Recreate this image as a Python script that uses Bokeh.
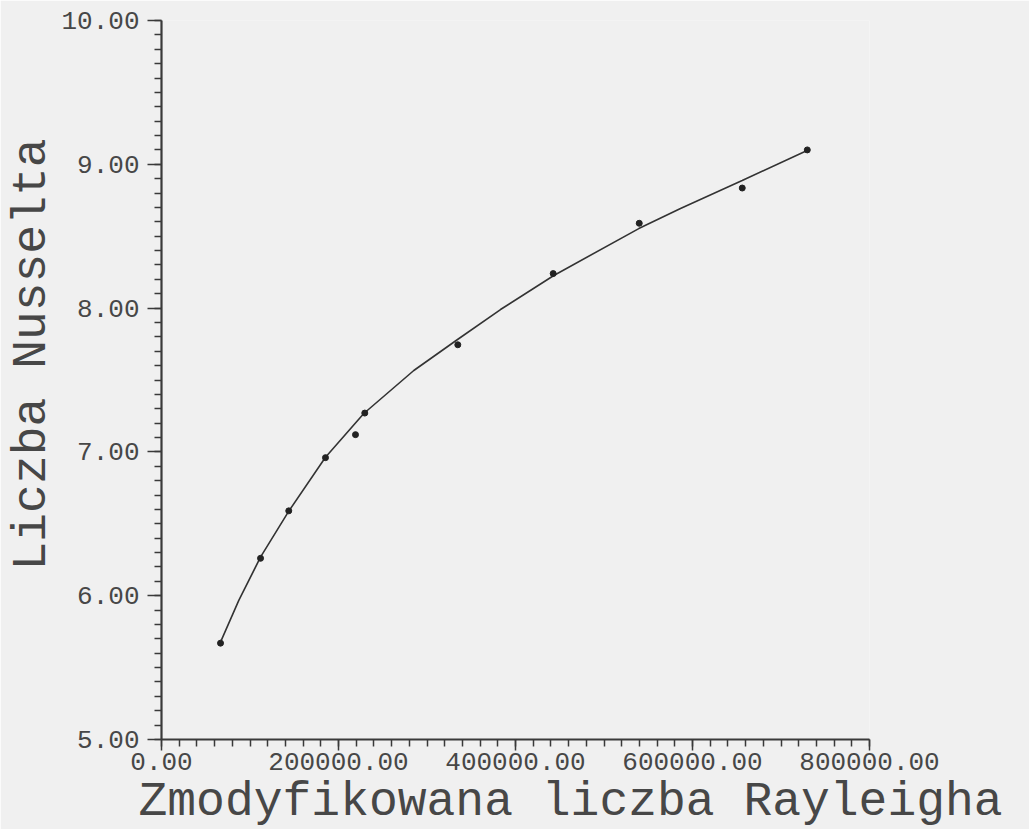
from bokeh.plotting import figure
from bokeh.models import Range1d, SingleIntervalTicker, Title
from bokeh.embed import file_html
from bokeh.resources import INLINE

# measured data points (modified Rayleigh number, Nusselt number)
ra_points = [66700, 111900, 143800, 185300, 219200, 229700, 334800, 442600, 539800, 656200, 729700]
nu_points = [5.67, 6.26, 6.59, 6.96, 7.12, 7.27, 7.745, 8.24, 8.59, 8.835, 9.10]

# fitted curve
ra_curve = [66670, 87340, 111860, 143840, 185300, 228580, 285080, 334120, 383050,
            443300, 539300, 586440, 656140, 727700]
nu_curve = [5.677, 5.967, 6.268, 6.588, 6.963, 7.267, 7.566, 7.78, 7.99,
            8.227, 8.553, 8.693, 8.887, 9.091]

x_ticks = [0, 200000, 400000, 600000, 800000]
x_tick_labels = ["0.00", "200000.00", "400000.00", "600000.00", "800000.00"]
y_ticks = [5, 6, 7, 8, 9, 10]
y_tick_labels = ["5.00", "6.00", "7.00", "8.00", "9.00", "10.00"]

x_title = "Zmodyfikowana liczba Rayleigha"
y_title = "Liczba Nusselta"

BG = "#f0f0f0"
INK = "#3a3a3a"
TXT = "#474747"
FONT = "Liberation Mono"

p = figure(width=1029, height=829, x_range=Range1d(0, 800000), y_range=Range1d(5, 10),
           output_backend="svg", toolbar_location=None,
           min_border_left=161, min_border_right=160, min_border_top=20, min_border_bottom=90)
p.background_fill_color = BG
p.border_fill_color = BG
p.outline_line_color = None
p.grid.visible = False

p.xaxis.ticker = SingleIntervalTicker(interval=200000, num_minor_ticks=10)
p.yaxis.ticker = SingleIntervalTicker(interval=1, num_minor_ticks=10)
p.xaxis.major_label_overrides = {t: l for t, l in zip(x_ticks, x_tick_labels)}
p.yaxis.major_label_overrides = {t: l for t, l in zip(y_ticks, y_tick_labels)}

for ax in (p.xaxis, p.yaxis):
    ax.axis_line_color = INK
    ax.major_tick_line_color = INK
    ax.minor_tick_line_color = INK
    ax.major_tick_in = 0
    ax.minor_tick_in = 0
    ax.major_label_text_font = FONT
    ax.major_label_text_font_size = "26px"
    ax.major_label_text_color = TXT
    ax.major_tick_line_width = 1.5
    ax.minor_tick_line_width = 1.5

p.yaxis.axis_line_width = 2.2
p.xaxis.axis_line_width = 1.8
p.yaxis.major_tick_out = 14
p.yaxis.minor_tick_out = 7
p.yaxis.major_label_standoff = 8
p.xaxis.major_tick_out = 11
p.xaxis.minor_tick_out = 7
p.xaxis.major_label_standoff = 2

# axis titles as side-panel titles, shifted like in the original
p.add_layout(Title(text=x_title, align="left", offset=-23, standoff=0,
                   vertical_align="bottom", text_font=FONT, text_font_size="48px",
                   text_font_style="normal", text_color=TXT), "below")
p.add_layout(Title(text=y_title, align="left", offset=169, standoff=0,
                   vertical_align="bottom", text_font=FONT, text_font_size="48px",
                   text_font_style="normal", text_color=TXT), "left")

p.line(ra_curve, nu_curve, line_color="#333333", line_width=1.6)
p.scatter(ra_points, nu_points, marker="circle", size=6, fill_color="#222222", line_color="#222222")

open("out.html", "w").write(file_html(p, INLINE))
